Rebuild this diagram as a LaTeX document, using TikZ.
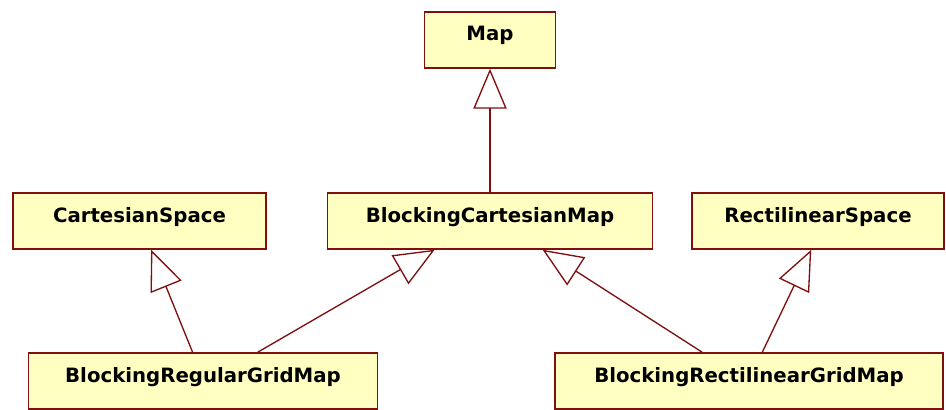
\documentclass[tikz,border=0pt]{standalone}
\usepackage{fontspec}
\setmainfont{DejaVu Sans}
\usetikzlibrary{arrows.meta,calc}
\definecolor{umlfill}{RGB}{255,255,194}
\definecolor{umlline}{RGB}{128,16,16}
\begin{document}
\begin{tikzpicture}[x=0.75pt, y=-0.75pt,
    cls/.style={draw=umlline, fill=umlfill, line width=1.1pt, inner sep=0pt,
      text height=21.75pt, text depth=20.25pt,
      font=\bfseries\fontsize{14.8}{16}\selectfont},
    inherit/.style={-{Triangle[open, length=30pt, width=25pt, line width=1pt]},
      draw=umlline, line width=1pt}]
  \useasboundingbox[fill=white] (0,0) rectangle (946,410);

  % classes
  \node[cls, minimum width=98pt]  (map)     at (490,40)    {Map};
  \node[cls, minimum width=190pt] (cspace)  at (139.5,221) {CartesianSpace};
  \node[cls, minimum width=244pt] (bcmap)   at (490,221)   {BlockingCartesianMap};
  \node[cls, minimum width=189pt] (rspace)  at (818,221)   {RectilinearSpace};
  \node[cls, minimum width=262pt] (brgmap)  at (203,381)   {BlockingRegularGridMap};
  \node[cls, minimum width=291pt] (brlgmap) at (749,381)   {BlockingRectilinearGridMap};

  % generalisations
  \draw[inherit] (bcmap.north) -- (map.south);
  \draw[inherit] ($(brgmap.north west)+(165,0)$) -- ($(cspace.south west)+(139,0)$);
  \draw[inherit] ($(brgmap.north west)+(230,0)$) -- ($(bcmap.south west)+(108,0)$);
  \draw[inherit] ($(brlgmap.north west)+(148,0)$) -- ($(bcmap.south west)+(216,0)$);
  \draw[inherit] ($(brlgmap.north west)+(208,0)$) -- ($(rspace.south west)+(120,0)$);
\end{tikzpicture}
\end{document}
